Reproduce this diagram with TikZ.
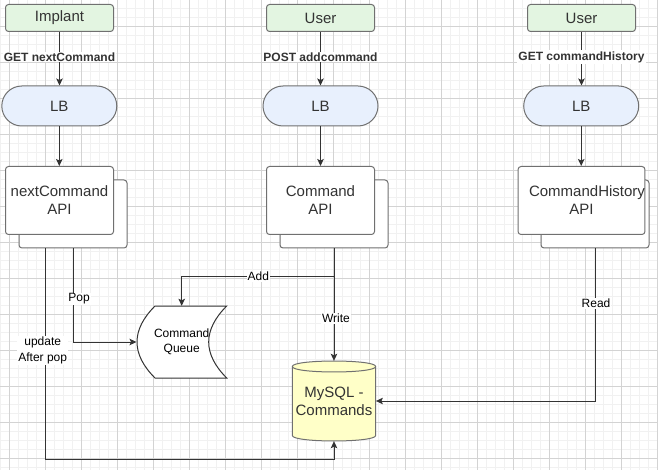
\documentclass[tikz,border=0pt]{standalone}
\usepackage{fontspec}
\setmainfont{Liberation Sans}
\usetikzlibrary{arrows.meta}
\definecolor{gridmaj}{HTML}{D3D3D3}
\definecolor{gridmin}{HTML}{F1F1F1}
\definecolor{greenfill}{HTML}{E3F5E1}
\definecolor{bluefill}{HTML}{E8F0FD}
\definecolor{dbfill}{HTML}{FFFFC8}
\definecolor{bordergray}{HTML}{707070}
\definecolor{linecol}{HTML}{333333}
\definecolor{txt}{HTML}{333333}
\begin{document}
\begin{tikzpicture}[x=1pt,y=-1pt,
  actor/.style={draw=bordergray, line width=1pt, fill=greenfill, rounded corners=3pt, minimum width=108pt, minimum height=27pt, inner sep=0pt, font=\fontsize{15}{18}\selectfont, text=txt},
  lbnode/.style={draw=bordergray, line width=1pt, fill=bluefill, rounded corners=20pt, minimum width=115pt, minimum height=40pt, inner sep=0pt, font=\fontsize{15}{18}\selectfont, text=txt},
  apibox/.style={draw=bordergray, line width=1pt, fill=white, rounded corners=3pt, minimum width=108pt, minimum height=68pt, inner sep=0pt, align=center, font=\fontsize{15}{18}\selectfont, text=txt},
  arr/.style={draw=linecol, line width=1pt, -{Stealth[length=7pt,width=6.5pt,inset=1.5pt]}},
  elabel/.style={fill=white, inner sep=1pt, font=\fontsize{12}{15.5}\selectfont, align=center, text=black},
  blabel/.style={fill=white, inner sep=1pt, font=\fontsize{12}{15}\selectfont\bfseries, text=txt},
  gmin/.style={draw=gridmin, line width=1pt},
  gmaj/.style={draw=gridmaj, line width=1pt}
]
\useasboundingbox (0,0) rectangle (658,470);
\fill[white] (0,0) rectangle (658,470);
% grid
\foreach \i in {0,...,73} \draw[gmin] ({0.3+9*\i},0) -- ({0.3+9*\i},470);
\foreach \j in {0,...,51} \draw[gmin] (0,{8.3+9*\j}) -- (658,{8.3+9*\j});
\foreach \i in {0,...,18} \draw[gmaj] ({9.3+36*\i},0) -- ({9.3+36*\i},470);
\foreach \j in {0,...,12} \draw[gmaj] (0,{26.3+36*\j}) -- (658,{26.3+36*\j});

% top row
\node[actor] (imp) at (59.5,18) {Implant};
\node[actor] (usr1) at (320.5,18) {User};
\node[actor] (usr2) at (581.5,18) {User};

\node[lbnode] (lb1) at (59.3,106) {LB};
\node[lbnode] (lb2) at (320.5,106) {LB};
\node[lbnode] (lb3) at (581.2,106) {LB};

% API boxes (stacked)
\node[apibox] (nb) at (73,214) {};
\node[apibox] (nf) at (59.5,200.5) {nextCommand\\API};
\node[apibox] (cb) at (334,214) {};
\node[apibox] (cf) at (320.5,200.5) {Command\\API};
\node[apibox] (hb) at (595,214) {};
\node[apibox] (hf) at (581.5,200.5) {\hspace*{11pt}CommandHistory\\API};

% command queue (stored data shape)
\draw[draw=linecol, fill=white, line width=1pt] (155,306) -- (226.7,306)
  .. controls (202.7,330) and (202.7,354) .. (226.7,378) -- (155,378)
  .. controls (131,354) and (131,330) .. (155,306) -- cycle;
\node[minimum width=90pt, minimum height=72pt, inner sep=0pt, align=center, font=\fontsize{12}{14.6}\selectfont, text=black] (cq) at (181.7,342) {Command\\Queue};

% database cylinder
\draw[draw=bordergray, fill=dbfill, line width=1pt] (292.3,366.5) -- (292.3,435.5)
  .. controls (292.3,442.8) and (375.7,442.8) .. (375.7,435.5) -- (375.7,366.5)
  .. controls (375.7,359.2) and (292.3,359.2) .. (292.3,366.5) -- cycle;
\draw[draw=bordergray, line width=1pt] (292.3,366.5) .. controls (292.3,373.8) and (375.7,373.8) .. (375.7,366.5);
\node[minimum width=83.4pt, minimum height=80pt, inner sep=0pt, align=center, font=\fontsize{15}{18}\selectfont, text=txt] (db) at (334,401) {MySQL -\\Commands};

% top connectors
\draw[arr] (imp.south) -- (imp.south |- lb1.north);
\draw[arr] (usr1.south) -- (usr1.south |- lb2.north);
\draw[arr] (usr2.south) -- (usr2.south |- lb3.north);
\draw[arr] (lb1.south) -- (lb1.south |- nf.north);
\draw[arr] (lb2.south) -- (lb2.south |- cf.north);
\draw[arr] (lb3.south) -- (lb3.south |- hf.north);

\node[blabel] (g1) at (59.5,57) {GET nextCommand};
\node[blabel] (g2) at (320.5,57) {POST addcommand};
\node[blabel] (g3) at (581.5,57) {GET commandHistory};

% lower connectors
\coordinate (uc) at (45.7,459);
\coordinate (ad) at (334,276.7);
\draw[arr] (nb.south) |- (cq.west);
\draw[arr] (nb.south -| uc) -- (uc) -| (db.south);
\draw[arr] (cb.south) -- (db.north);
\draw[arr] (ad) -| (cq.north);
\draw[arr] (hb.south) |- (db.east);

\node[elabel] (lpop) at (79,299) {Pop};
\node[elabel] (lupd) at (42.7,350.5) {update\\After pop};
\node[elabel] (ladd) at (258.3,276.7) {Add};
\node[elabel] (lwr) at (336,318.7) {Write};
\node[elabel] (lrd) at (596,303.3) {Read};
\end{tikzpicture}
\end{document}
